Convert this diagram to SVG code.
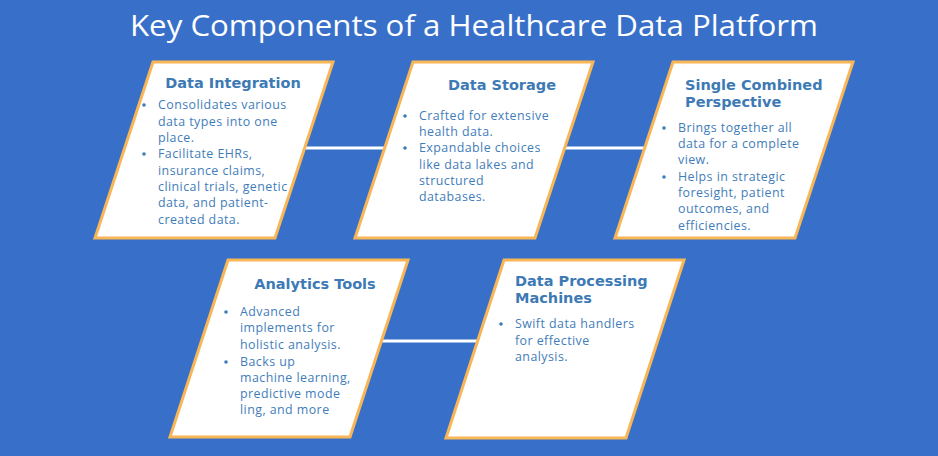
<svg xmlns="http://www.w3.org/2000/svg" width="938" height="456" viewBox="0 0 938 456">
<style>
.bg{fill:#3870C9}
.card{fill:#FFFFFF;stroke:#F8B656;stroke-width:3;stroke-linejoin:miter}
.conn{stroke:#FFFFFF;stroke-width:3;fill:none}
.title{font-family:"Open Sans","Liberation Sans",sans-serif;font-size:29px;fill:#FFFFFF}
.head{font-family:"DejaVu Sans","Liberation Sans",sans-serif;font-size:14.5px;font-weight:bold;fill:#3D7AB5}
.body{font-family:"Open Sans","Liberation Sans",sans-serif;font-size:12.4px;letter-spacing:0.45px;fill:#3F7DBA}
.bul{fill:#3F7DBA}
</style>
<rect class="bg" x="0" y="0" width="938" height="456"/>
<text class="title" x="474" y="36" text-anchor="middle" textLength="688" lengthAdjust="spacingAndGlyphs">Key Components of a Healthcare Data Platform</text>
<g id="connectors">
<line class="conn" x1="250" y1="148" x2="500" y2="148"/>
<line class="conn" x1="500" y1="148" x2="760" y2="148"/>
<line class="conn" x1="300" y1="341" x2="560" y2="341"/>
</g>
<g id="data-integration">
<polygon class="card" points="153,62 333,62 275,238 95,238"/>
<text class="head" x="233" y="88" text-anchor="middle">Data Integration</text>
<circle class="bul" cx="144" cy="105" r="1.8"/>
<circle class="bul" cx="144" cy="154" r="1.8"/>
<text class="body"><tspan x="158" y="109">Consolidates various</tspan><tspan x="158" y="125.5">data types into one</tspan><tspan x="158" y="142">place.</tspan><tspan x="158" y="158">Facilitate EHRs,</tspan><tspan x="158" y="174.5">insurance claims,</tspan><tspan x="158" y="191">clinical trials, genetic</tspan><tspan x="158" y="207">data, and patient-</tspan><tspan x="158" y="223.5">created data.</tspan></text>
</g>
<g id="data-storage">
<polygon class="card" points="413,62 593,62 535,238 355,238"/>
<text class="head" x="502" y="90" text-anchor="middle">Data Storage</text>
<circle class="bul" cx="405" cy="116" r="1.8"/>
<circle class="bul" cx="405" cy="148" r="1.8"/>
<text class="body"><tspan x="419" y="120">Crafted for extensive</tspan><tspan x="419" y="136">health data.</tspan><tspan x="419" y="152">Expandable choices</tspan><tspan x="419" y="168.5">like data lakes and</tspan><tspan x="419" y="184.5">structured</tspan><tspan x="419" y="201">databases.</tspan></text>
</g>
<g id="single-combined-perspective">
<polygon class="card" points="673,62 853,62 795,238 615,238"/>
<text class="head"><tspan x="685" y="90">Single Combined</tspan><tspan x="685" y="107">Perspective</tspan></text>
<circle class="bul" cx="664" cy="128" r="1.8"/>
<circle class="bul" cx="664" cy="177" r="1.8"/>
<text class="body"><tspan x="678" y="132">Brings together all</tspan><tspan x="678" y="148">data for a complete</tspan><tspan x="678" y="164">view.</tspan><tspan x="678" y="181">Helps in strategic</tspan><tspan x="678" y="197">foresight, patient</tspan><tspan x="678" y="213">outcomes, and</tspan><tspan x="678" y="229.5">efficiencies.</tspan></text>
</g>
<g id="analytics-tools">
<polygon class="card" points="228,260 408,260 350,437 170,437"/>
<text class="head" x="315" y="289" text-anchor="middle">Analytics Tools</text>
<circle class="bul" cx="226" cy="312" r="1.8"/>
<circle class="bul" cx="226" cy="362" r="1.8"/>
<text class="body"><tspan x="240" y="316">Advanced</tspan><tspan x="240" y="332">implements for</tspan><tspan x="240" y="348.5">holistic analysis.</tspan><tspan x="240" y="366">Backs up</tspan><tspan x="240" y="382">machine learning,</tspan><tspan x="240" y="398">predictive mode</tspan><tspan x="240" y="414">ling, and more</tspan></text>
</g>
<g id="data-processing-machines">
<polygon class="card" points="504,260 684,260 626,438 446,438"/>
<text class="head"><tspan x="515" y="286">Data Processing</tspan><tspan x="515" y="303">Machines</tspan></text>
<circle class="bul" cx="501" cy="324" r="1.8"/>
<text class="body"><tspan x="515" y="328">Swift data handlers</tspan><tspan x="515" y="345">for effective</tspan><tspan x="515" y="361">analysis.</tspan></text>
</g>
</svg>
